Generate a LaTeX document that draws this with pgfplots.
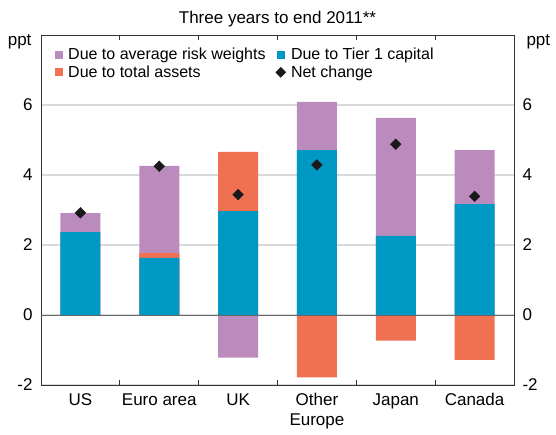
\documentclass[border=0pt]{standalone}
\usepackage{fontspec}
\setmainfont{Liberation Sans}
\usepackage{pgfplots}
\pgfplotsset{compat=1.18}
\definecolor{cpurple}{RGB}{188,139,190}
\definecolor{cblue}{RGB}{0,153,196}
\definecolor{corange}{RGB}{240,112,82}
\definecolor{gridc}{RGB}{218,218,218}
\definecolor{axc}{RGB}{50,50,50}
\begin{document}
\begin{tikzpicture}[font=\fontsize{17}{20}\selectfont]
\pgfplotsset{mybar/.style={ybar, bar width=40pt, bar shift=0pt, draw=none, forget plot}}
\begin{axis}[
  name=main,
  scale only axis, width=473pt, height=350pt,
  xmin=-0.5, xmax=5.5, ymin=-2, ymax=8,
  /pgf/number format/assume math mode=true,
  xtick={0,1,2,3,4,5},
  xticklabels={US,Euro area,UK,Other\\Europe,Japan,Canada},
  xticklabel style={align=center, yshift=-5pt},
  minor xtick={0.5,1.5,2.5,3.5,4.5},
  major tick length=0pt, minor tick length=5pt,
  tick align=inside,
  minor tick style={axc, line width=0.8pt},
  ytick={-2,0,2,4,6},
  yticklabel style={xshift=-5pt},
  ymajorgrids, grid style={gridc, line width=1.2pt},
  axis line style={axc, line width=0.9pt},
  tick label style={font=\fontsize{17}{20}\selectfont},
  legend columns=2,
  legend cell align=left,
  legend style={draw=none, fill=none, at={(rel axis cs:0,1)}, anchor=north west,
    xshift=11pt, yshift=-9pt, font=\fontsize{16}{19}\selectfont,
    /tikz/every odd column/.append style={column sep=3pt},
    /tikz/every even column/.append style={column sep=8pt},
    row sep=0.5pt},
  legend image code/.code={\fill[#1] (0pt,-4pt) rectangle (8pt,4pt);},
]
\addlegendimage{fill=cpurple, draw=none}
\addlegendentry{Due to average risk weights}
\addlegendimage{fill=cblue, draw=none}
\addlegendentry{Due to Tier 1 capital}
\addlegendimage{fill=corange, draw=none}
\addlegendentry{Due to total assets}
\addlegendimage{legend image code/.code={\fill[black!90] (4pt,-5pt) -- (9pt,0pt) -- (4pt,5pt) -- (-1pt,0pt) -- cycle;}}
\addlegendentry{Net change}
% purple: cumulative top (positive) or negative extent
\addplot[mybar, fill=cpurple] coordinates {(0,2.91) (1,4.26) (2,-1.22) (3,6.09) (4,5.63) (5,4.71)};
% orange: cumulative top (positive) or negative extent
\addplot[mybar, fill=corange] coordinates {(1,1.77) (2,4.66) (3,-1.78) (4,-0.73) (5,-1.28)};
% blue: Tier 1 capital
\addplot[mybar, fill=cblue] coordinates {(0,2.37) (1,1.63) (2,2.97) (3,4.71) (4,2.26) (5,3.17)};
\draw[black!60, line width=0.9pt] (rel axis cs:0,0.2) -- (rel axis cs:1,0.2);
% net change
\addplot[only marks, mark=square*, mark size=3.8pt, mark options={rotate=45, fill=black!90, draw=black!90}, forget plot]
  coordinates {(0,2.92) (1,4.25) (2,3.44) (3,4.29) (4,4.88) (5,3.39)};
\end{axis}
\begin{axis}[
  scale only axis, width=473pt, height=350pt,
  xmin=-0.5, xmax=5.5, ymin=-2, ymax=8,
  /pgf/number format/assume math mode=true,
  axis x line=none, axis y line*=right,
  ytick={-2,0,2,4,6}, major tick length=0pt,
  yticklabel style={xshift=5pt},
  axis line style={axc, line width=0.9pt},
  tick label style={font=\fontsize{17}{20}\selectfont},
]
\addplot[draw=none] coordinates {(0,0)};
\end{axis}
\node[anchor=base east] at ([shift={(-6pt,-11pt)}]main.north west) {ppt};
\node[anchor=base west] at ([shift={(9pt,-11pt)}]main.north east) {ppt};
\node[anchor=base] at ([yshift=11pt]main.north) {Three years to end 2011**};
\pgfresetboundingbox
\path ([shift={(-41pt,-49pt)}]main.south west) rectangle ([shift={(42pt,35pt)}]main.north east);
\end{tikzpicture}
\end{document}
